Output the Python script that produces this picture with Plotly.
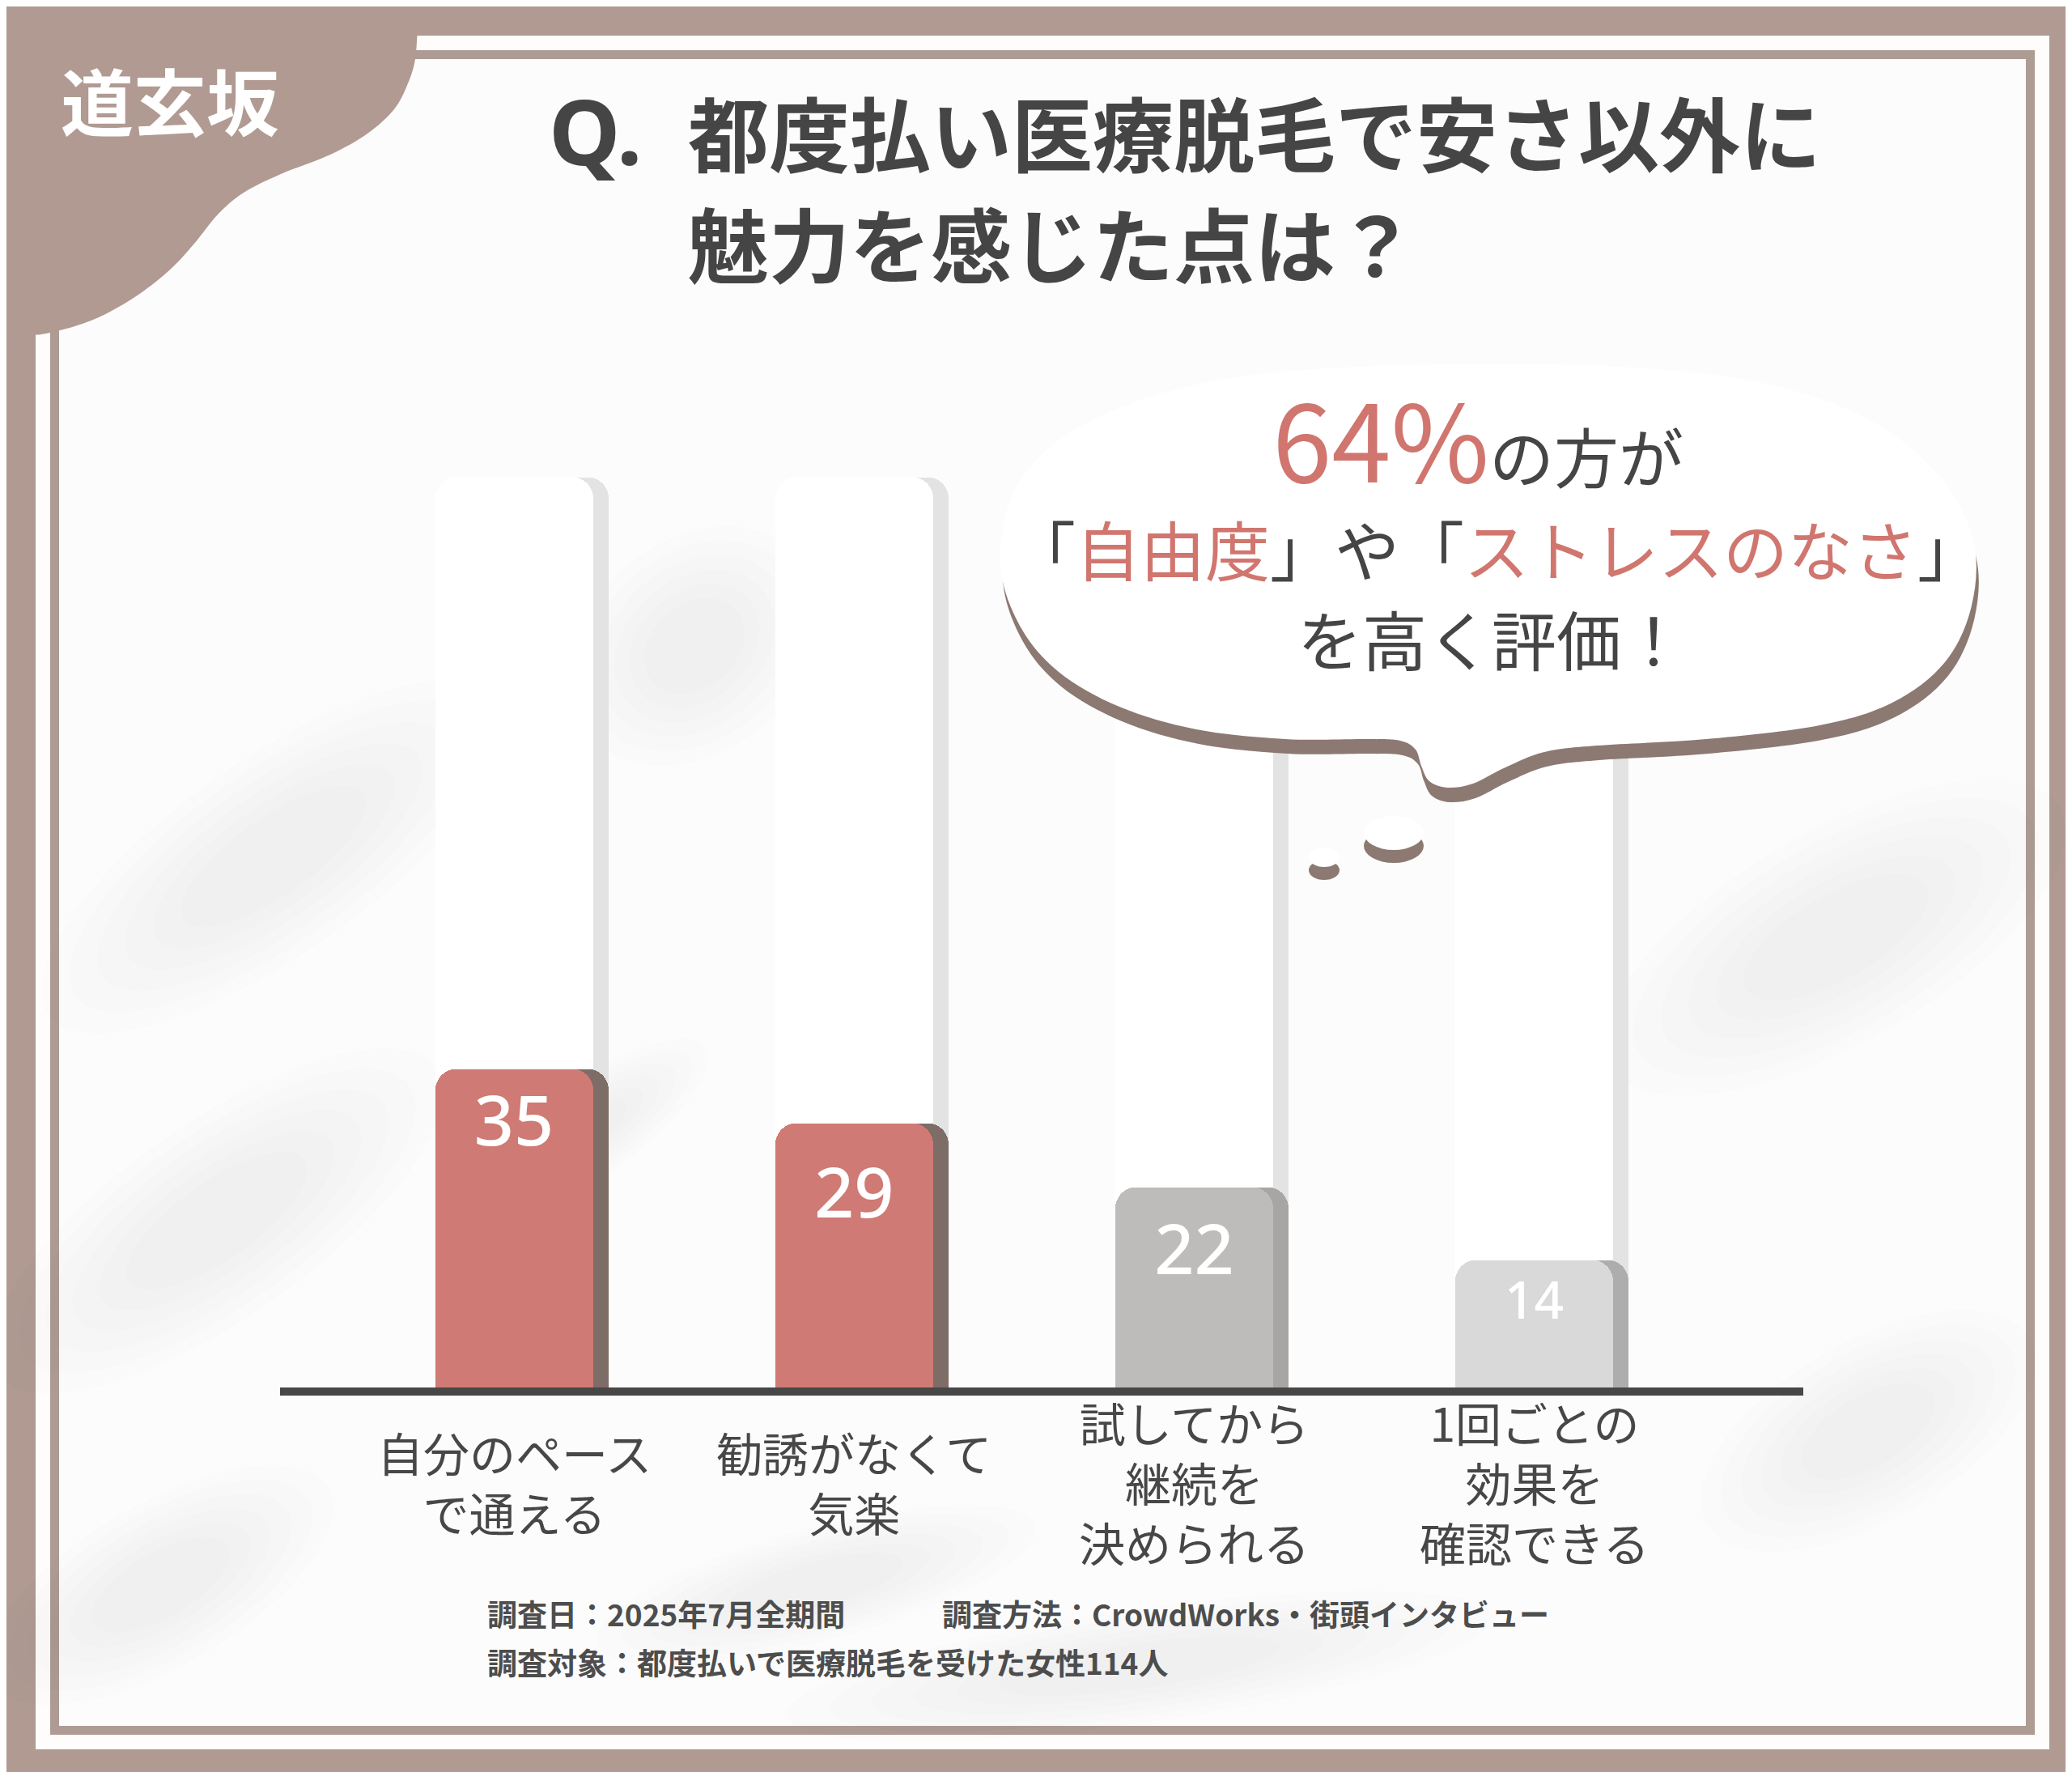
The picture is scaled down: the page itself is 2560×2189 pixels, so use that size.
import math
import plotly.graph_objects as go

W, H = 2560, 2189

# ---------------- data ----------------
CATEGORIES = ["自分のペースで通える", "勧誘がなくて気楽", "試してから継続を決められる", "1回ごとの効果を確認できる"]
CATEGORY_LABELS = ["自分のペース<br>で通える", "勧誘がなくて<br>気楽", "試してから<br>継続を<br>決められる", "1回ごとの<br>効果を<br>確認できる"]
VALUES = [35, 29, 22, 14]
FULL_SCALE = 100

TITLE_Q = "Q."
TITLE_LINE1 = "都度払い医療脱毛で安さ以外に"
TITLE_LINE2 = "魅力を感じた点は？"
LOGO = "道玄坂"
BUBBLE_PCT = "64%"
BUBBLE_L1 = "の方が"
BUBBLE_L2 = [("「", 0), ("自由度", 1), ("」や「", 0), ("ストレスのなさ", 1), ("」", 0)]
BUBBLE_L3 = "を高く評価！"
FOOT_1A = "調査日：2025年7月全期間"
FOOT_1B = "調査方法：CrowdWorks・街頭インタビュー"
FOOT_2 = "調査対象：都度払いで医療脱毛を受けた女性114人"

# ---------------- styles ----------------
BROWN = "#B09A92"
SHADOW_BROWN = "#8C7972"
RED = "#D0766F"
DARK = "#454545"
BAR_COLORS = ["#CF7A74", "#CF7A74", "#BEBCBA", "#DAD9D9"]
BAR_SHADOWS = ["#7E6C66", "#7E6C66", "#A8A6A5", "#ADADAD"]
VALUE_SIZES = [86, 86, 86, 64]
VALUE_DROP = [6.5, 8.4, 7.6, 5.0]   # label placement below each bar top (axis units)
JP = "Noto Sans CJK JP"


def P(x, y):
    return f"{x / W:.5f},{1 - y / H:.5f}"


def px(x):
    return x / W


def py(y):
    return 1 - y / H


def smooth_closed(pts, t=1 / 6):
    n = len(pts)
    s = "M " + P(*pts[0])
    for i in range(n):
        p0, p1, p2, p3 = pts[(i - 1) % n], pts[i], pts[(i + 1) % n], pts[(i + 2) % n]
        c1 = (p1[0] + (p2[0] - p0[0]) * t, p1[1] + (p2[1] - p0[1]) * t)
        c2 = (p2[0] - (p3[0] - p1[0]) * t, p2[1] - (p3[1] - p1[1]) * t)
        s += f" C {P(*c1)} {P(*c2)} {P(*p2)}"
    return s + " Z"


def ellipse_path(cx, cy, rx, ry, ang):
    a = math.radians(ang)
    pts = []
    for k in range(40):
        th = 2 * math.pi * k / 40
        ex, ey = rx * math.cos(th), ry * math.sin(th)
        pts.append((cx + ex * math.cos(a) - ey * math.sin(a), cy + ex * math.sin(a) + ey * math.cos(a)))
    return smooth_closed(pts)


shapes = []
# white band, brown inner line, panel
shapes.append(dict(type="rect", xref="paper", yref="paper", x0=px(36), x1=px(2524), y0=py(2153), y1=py(36),
                   fillcolor="#FEFDFC", line=dict(width=0), layer="below"))
shapes.append(dict(type="rect", xref="paper", yref="paper", x0=px(54), x1=px(2506), y0=py(2135), y1=py(54),
                   fillcolor="#AE9B94", line=dict(width=0), layer="below"))
shapes.append(dict(type="rect", xref="paper", yref="paper", x0=px(65), x1=px(2495), y0=py(2124), y1=py(65),
                   fillcolor="#FCFCFC", line=dict(width=0), layer="below"))
# soft background blotches
blotches = [(330, 1050, 340, 120, -35), (260, 1500, 330, 120, -35), (190, 1950, 240, 100, -30),
            (2260, 1150, 320, 130, -30), (1400, 2050, 440, 70, -8), (850, 790, 170, 130, -40),
            (2300, 1760, 230, 110, -30), (1000, 1950, 280, 70, -15), (700, 1400, 200, 60, -35)]
for (cx, cy, rx, ry, ang) in blotches:
    for f in (1.0, 0.88, 0.76, 0.64, 0.52, 0.4):
        shapes.append(dict(type="path", xref="paper", yref="paper", path=ellipse_path(cx, cy, rx * f, ry * f, ang),
                           fillcolor="rgba(120,120,120,0.013)", line=dict(width=0), layer="below"))
# logo blob top-left
blob_pts = [(-60, -60), (520, -60), (509, 20), (505, 65), (496, 95), (479, 127), (446, 157), (400, 183),
            (339, 207), (293, 230), (261, 257), (232, 293), (200, 327), (157, 360), (107, 387), (54, 403),
            (15, 408), (-60, 420)]
shapes.append(dict(type="path", xref="paper", yref="paper", path=smooth_closed(blob_pts),
                   fillcolor=BROWN, line=dict(width=0), layer="below"))

# speech bubble
bubble_pts = [(1228, 690), (1242, 605), (1292, 542), (1380, 494), (1500, 461), (1650, 446), (1830, 442),
              (2010, 446), (2170, 465), (2300, 510), (2388, 580), (2430, 660), (2428, 740), (2395, 810),
              (2330, 860), (2240, 888), (2100, 905), (1965, 913), (1900, 921), (1852, 940), (1812, 960),
              (1780, 965), (1758, 957), (1748, 938), (1741, 918), (1722, 907), (1680, 905), (1580, 905),
              (1470, 893), (1375, 865), (1300, 822), (1252, 765)]
shadow_pts = [(x + 3, y + 18) for (x, y) in bubble_pts]
shapes.append(dict(type="path", xref="paper", yref="paper", path=smooth_closed(shadow_pts),
                   fillcolor=SHADOW_BROWN, line=dict(width=0), layer="above"))
shapes.append(dict(type="path", xref="paper", yref="paper", path=smooth_closed(bubble_pts),
                   fillcolor="#FFFFFF", line=dict(width=0), layer="above"))
# drops
for (cx, cy, rx, ry, dy) in [(1714, 1021, 37, 21, 16), (1628, 1051, 19, 12, 16)]:
    shapes.append(dict(type="circle", xref="paper", yref="paper", x0=px(cx - rx), x1=px(cx + rx),
                       y0=py(cy + dy + ry), y1=py(cy + dy - ry), fillcolor=SHADOW_BROWN, line=dict(width=0),
                       layer="above"))
    shapes.append(dict(type="circle", xref="paper", yref="paper", x0=px(cx - rx), x1=px(cx + rx),
                       y0=py(cy + ry), y1=py(cy - ry), fillcolor="#FFFFFF", line=dict(width=0), layer="above"))

# ---------------- bars ----------------
STEP = 420.2            # pixels per category
FIRST = 627.0           # pixel centre of the first category
BW = 195 / STEP         # bar width (category units)
SH = 19 / STEP          # shadow shift (category units)
RADIUS = 26

fig = go.Figure()
# each layer on its own overlaid x axis so every bar trace is drawn alone (keeps rounded tops)
fig.add_trace(go.Bar(x=CATEGORIES, y=[FULL_SCALE] * 4, width=BW, xaxis="x", yaxis="y",
                     marker=dict(color="#E3E3E3", cornerradius=RADIUS, line=dict(width=0)),
                     hoverinfo="skip", showlegend=False))
fig.add_trace(go.Bar(x=CATEGORIES, y=[FULL_SCALE] * 4, width=BW, xaxis="x2", yaxis="y",
                     marker=dict(color="#FFFFFF", cornerradius=RADIUS, line=dict(width=0)),
                     hoverinfo="skip", showlegend=False))
fig.add_trace(go.Bar(x=CATEGORIES, y=VALUES, width=BW, xaxis="x3", yaxis="y",
                     marker=dict(color=BAR_SHADOWS, cornerradius=RADIUS, line=dict(width=0)),
                     hoverinfo="skip", showlegend=False))
fig.add_trace(go.Bar(x=CATEGORIES, y=VALUES, width=BW, xaxis="x4", yaxis="y",
                     marker=dict(color=BAR_COLORS, cornerradius=RADIUS, line=dict(width=0)),
                     hoverinfo="skip", showlegend=False))
fig.add_trace(go.Scatter(x=CATEGORIES, y=[v - d for v, d in zip(VALUES, VALUE_DROP)], mode="text",
                         text=[str(v) for v in VALUES], xaxis="x4", yaxis="y",
                         textfont=dict(family="Noto Sans", size=VALUE_SIZES, color="#FFFFFF", weight=500),
                         hoverinfo="skip", showlegend=False))

annotations = []


def ann(text, x, y, size, color=DARK, xanchor="center", weight=400, family=JP, **kw):
    annotations.append(dict(text=text, x=px(x), y=py(y), xref="paper", yref="paper", showarrow=False,
                            xanchor=xanchor, yanchor="middle",
                            font=dict(family=family, size=size, color=color, weight=weight), **kw))


ann(LOGO, 202, 114, 90, color="#FFFFFF", weight=700)
ann(TITLE_Q, 668, 152, 112, weight=700, xanchor="left", family="Noto Sans")
ann(TITLE_LINE1, 840, 154, 100, weight=700, xanchor="left")
ann(TITLE_LINE2, 840, 290, 100, weight=700, xanchor="left")

ann(f"<span style='font-size:132px;color:{RED}'>{BUBBLE_PCT}</span>"
    f"<span style='font-size:80px'>{BUBBLE_L1}</span>", 1818, 530, 80)
l2 = "".join(f"<span style='color:{RED}'>{t}</span>" if r else t for t, r in BUBBLE_L2)
ann(l2, 1841, 668, 80)
ann(BUBBLE_L3, 1835, 779, 80)

for cat, lab in zip(CATEGORIES, CATEGORY_LABELS):
    annotations.append(dict(text=lab, x=cat, xref="x4", y=py(1822), yref="paper", showarrow=False,
                            xanchor="center", yanchor="middle", align="center",
                            font=dict(family=JP, size=57, color="#474747")))

ann(FOOT_1A, 592, 1985, 37, color="#4D4D4D", weight=700, xanchor="left")
ann(FOOT_1B, 1154, 1985, 37, color="#4D4D4D", weight=700, xanchor="left")
ann(FOOT_2, 592, 2045, 37, color="#4D4D4D", weight=700, xanchor="left")

x_left = -(FIRST - 338) / STEP
x_right = (2220 - FIRST) / STEP

hidden = dict(type="category", categoryorder="array", categoryarray=CATEGORIES, showgrid=False, zeroline=False,
              showticklabels=False, ticks="", fixedrange=True)

fig.update_layout(
    width=W, height=H, autosize=False,
    margin=dict(l=0, r=0, t=0, b=0, pad=0),
    paper_bgcolor=BROWN, plot_bgcolor="rgba(0,0,0,0)",
    barmode="group", bargap=0,
    shapes=shapes, annotations=annotations,
    xaxis=dict(domain=[338 / W, 2220 / W], range=[x_left - SH, x_right - SH], showline=True,
               linecolor="#474747", linewidth=10, **hidden),
    xaxis2=dict(overlaying="x", range=[x_left, x_right], showline=False, **hidden),
    xaxis3=dict(overlaying="x", range=[x_left - SH, x_right - SH], showline=False, **hidden),
    xaxis4=dict(overlaying="x", range=[x_left, x_right], showline=False, **hidden),
    yaxis=dict(domain=[py(1706), py(468.5)], range=[0, 110], showgrid=False, zeroline=False,
               showticklabels=False, ticks="", showline=False, fixedrange=True),
    showlegend=False,
)

fig.write_html("out.html")
